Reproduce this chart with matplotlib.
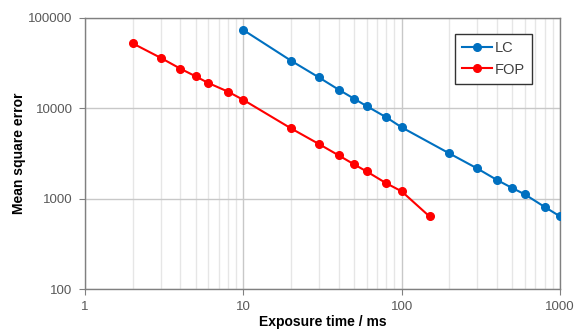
import matplotlib
matplotlib.use("Agg")
import matplotlib.pyplot as plt
from matplotlib.ticker import FixedLocator, NullFormatter, FixedFormatter

# data
lc_time = [10, 20, 30, 40, 50, 60, 80, 100, 200, 300, 400, 500, 600, 800, 1000]
lc_mse = [73600, 33700, 22000, 16100, 12800, 10600, 7950, 6160, 3170, 2160, 1610, 1310, 1115, 810, 637]
fop_time = [2, 3, 4, 5, 6, 8, 10, 20, 30, 40, 50, 60, 80, 100, 150]
fop_mse = [52400, 36300, 27500, 22600, 19100, 15300, 12400, 6000, 4030, 3015, 2400, 2005, 1480, 1205, 635]

x_ticks = [1, 10, 100, 1000]
y_ticks = [100, 1000, 10000, 100000]

plt.rcParams['font.family'] = ['Liberation Sans', 'DejaVu Sans']

fig = plt.figure(figsize=(5.76, 3.33), dpi=100)
ax = fig.add_axes([85/576, 1-289/333, (560-85)/576, (289-18)/333])

ax.plot(lc_time, lc_mse, color='#0070C0', marker='o', markersize=5.5, lw=1.5, label='LC', zorder=3)
ax.plot(fop_time, fop_mse, color='#FF0000', marker='o', markersize=5.5, lw=1.5, label='FOP', zorder=3)

ax.set_xscale('log')
ax.set_yscale('log')
ax.set_xlim(1, 1000)
ax.set_ylim(100, 100000)

ax.xaxis.set_major_locator(FixedLocator(x_ticks))
ax.xaxis.set_major_formatter(FixedFormatter([str(v) for v in x_ticks]))
ax.yaxis.set_major_locator(FixedLocator(y_ticks))
ax.yaxis.set_major_formatter(FixedFormatter([str(v) for v in y_ticks]))
minor_x = [m * d for d in [1, 10, 100] for m in range(2, 10)]
ax.xaxis.set_minor_locator(FixedLocator(minor_x))
ax.xaxis.set_minor_formatter(NullFormatter())
ax.yaxis.set_minor_locator(FixedLocator([]))

ax.grid(True, which='major', color='#C8C8C8', lw=1.0, zorder=0)
ax.grid(True, which='minor', axis='x', color='#E6E6E6', lw=1.0, zorder=0)

ax.tick_params(which='major', length=4, color='#808080', labelsize=9.5, labelcolor='#595959')
ax.tick_params(axis='x', which='major', pad=5)
ax.tick_params(axis='y', which='major', pad=5)
ax.tick_params(which='minor', length=0)
for s in ax.spines.values():
    s.set_color('#808080')
    s.set_linewidth(1.0)

ax.set_xlabel('Exposure time / ms', fontsize=10, fontweight='bold', labelpad=1)
ax.set_ylabel('Mean square error', fontsize=10, fontweight='bold', labelpad=1.5)

leg = ax.legend(loc='upper right', bbox_to_anchor=(0.941, 0.941), borderaxespad=0, fontsize=10.5,
                fancybox=False, edgecolor='#333333', framealpha=1, handlelength=2.0, borderpad=0.5,
                labelspacing=0.5, handletextpad=0.2)
for t in leg.get_texts():
    t.set_color('#404040')

fig.savefig('out.png', dpi=100)
